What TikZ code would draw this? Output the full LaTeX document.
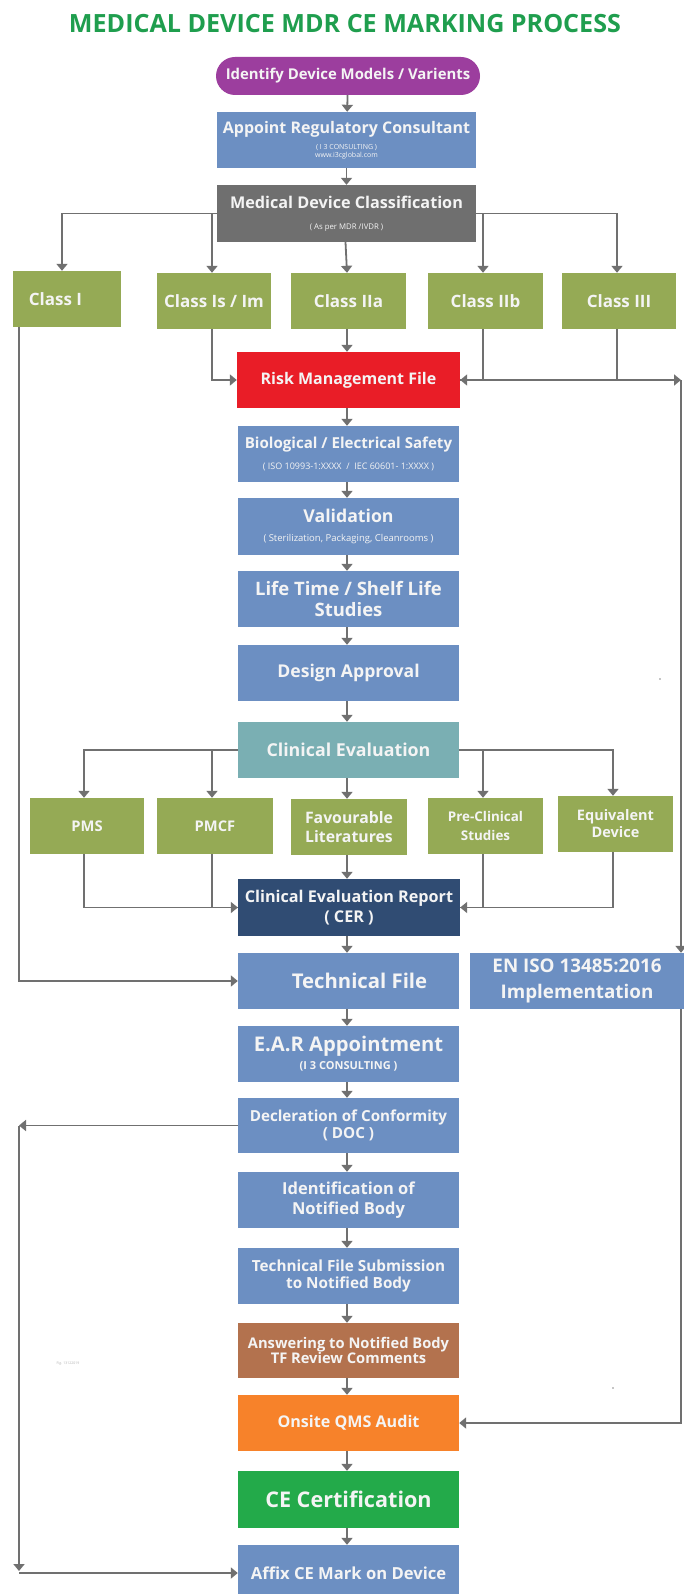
\documentclass[tikz,border=0pt]{standalone}
\usepackage{fontspec}
\setmainfont{Open Sans}
\usetikzlibrary{arrows.meta,calc}

\definecolor{titleGreen}{HTML}{1F9E4E}
\definecolor{cPurple}{HTML}{9C3E9E}
\definecolor{cBlue}{HTML}{6C8FC2}
\definecolor{cGray}{HTML}{6F6F6F}
\definecolor{cOlive}{HTML}{95AA55}
\definecolor{cRed}{HTML}{E91D27}
\definecolor{cTeal}{HTML}{7AAFB3}
\definecolor{cNavy}{HTML}{304C73}
\definecolor{cBrown}{HTML}{B3724E}
\definecolor{cOrange}{HTML}{F7822A}
\definecolor{cGreen}{HTML}{23AA4A}
\definecolor{lineGray}{HTML}{707070}
\definecolor{boxText}{HTML}{F4F4F4}

% font size with a 1.2 baseline skip
\newcommand{\fs}[1]{\fontsize{#1}{1.2\dimexpr#1pt\relax}\selectfont}
% small regular-weight remark line
\newcommand{\remark}[2]{{\mdseries\fs{#1}#2}}

\tikzset{
  box/.style={rectangle, inner sep=0pt, minimum width=221pt, minimum height=56pt,
    text=boxText, align=center, font=\bfseries},
  classbox/.style={box, fill=cOlive, minimum width=114pt, font=\bfseries\fs{17}},
  arr/.style={draw=lineGray, line width=1.8pt, -{Triangle[length=7pt,width=11pt]}},
  plain/.style={draw=lineGray, line width=1.8pt},
}

\begin{document}
\begin{tikzpicture}[x=1pt,y=-1pt]
\useasboundingbox (0,0) rectangle (684,1594);
\fill[white] (0,0) rectangle (684,1594);

% title
\node[font=\bfseries\fs{25.1}, text=titleGreen] (title) at (345,24) {MEDICAL DEVICE MDR CE MARKING PROCESS};

% top of the flow
\node[box, fill=cPurple, minimum width=264pt, minimum height=38pt, rounded corners=19pt,
      font=\bfseries\fs{14.9}] (ident) at (348,76) {Identify Device Models / Varients};
\node[box, fill=cBlue, minimum width=259pt, font=\bfseries\fs{16}] (appoint) at (346.5,140)
  {Appoint Regulatory Consultant\\[-3pt]
   \remark{7}{( I 3 CONSULTING )}\\[-11.5pt]\remark{7}{www.i3cglobal.com}};
\node[box, fill=cGray, minimum width=259pt, minimum height=57pt, font=\bfseries\fs{16.2}] (classif) at (346.5,213.5)
  {Medical Device Classification\\[1.5pt]\remark{7.8}{( As per MDR /IVDR )}};

% device classes
\node[classbox, minimum width=108pt] (c1) at (67,299) {\hspace*{-23pt}Class I};
\node[classbox] (cs) at (214,301) {Class Is / Im};
\node[classbox, minimum width=115pt] (c2a) at (348.5,301) {Class IIa};
\node[classbox, minimum width=115pt] (c2b) at (485.5,301) {Class IIb};
\node[classbox] (c3) at (619,301) {Class III};

% main column
\node[box, fill=cRed, minimum width=223pt, font=\bfseries\fs{16}] (risk) at (348.5,380) {Risk Management File};
\node[box, fill=cBlue, font=\bfseries\fs{15.1}] (bio) at (348.5,454)
  {Biological / Electrical Safety\\[2.6pt]\remark{9}{( ISO 10993-1:XXXX \ / \ IEC 60601- 1:XXXX )}};
\node[box, fill=cBlue, minimum height=57pt, font=\bfseries\fs{17.7}] (valid) at (348.5,526.5)
  {Validation\\[-1.5pt]\remark{9.5}{( Sterilization, Packaging, Cleanrooms )}};
\node[box, fill=cBlue, font=\bfseries\fs{18.5}] (life) at (348.5,599) {Life Time / Shelf Life\\[-1pt]Studies};
\node[box, fill=cBlue, font=\bfseries\fs{17.6}] (design) at (348.5,673) {Design Approval};
\node[box, fill=cTeal, font=\bfseries\fs{17.8}] (clin) at (348.5,750) {Clinical Evaluation};

% clinical evidence sources
\node[classbox, font=\bfseries\fs{14.7}] (pms) at (87,826) {PMS};
\node[classbox, minimum width=116pt, font=\bfseries\fs{14.7}] (pmcf) at (215,826) {PMCF};
\node[classbox, minimum width=116pt, font=\bfseries\fs{15.8}] (fav) at (349,827) {Favourable\\[0pt]Literatures};
\node[classbox, minimum width=115pt, font=\bfseries\fs{13.4}] (pre) at (485.5,826) {Pre-Clinical\\[3pt]Studies};
\node[classbox, minimum width=115pt, font=\bfseries\fs{14.5}] (equiv) at (615.5,824) {Equivalent\\[-0.5pt]Device};

\node[box, fill=cNavy, minimum width=222pt, minimum height=57pt, font=\bfseries\fs{16.2}] (cer) at (349,907.5)
  {Clinical Evaluation Report\\[0.5pt]( CER )};
\node[box, fill=cBlue, font=\bfseries\fs{20.3}] (tf) at (348.5,981) {\hspace*{22pt}Technical File};
\node[box, fill=cBlue, minimum width=214pt, font=\bfseries\fs{18.8}] (eniso) at (577,981)
  {EN ISO 13485:2016\\[3pt]Implementation};
\node[box, fill=cBlue, font=\bfseries\fs{20.2}] (ear) at (348.5,1054)
  {E.A.R Appointment\\[-6.5pt]{\fs{11}(I 3 CONSULTING )}};
\node[box, fill=cBlue, minimum height=55pt, font=\bfseries\fs{15.2}] (doc) at (348.5,1125.5)
  {Decleration of Conformity\\[-1.5pt]( DOC )};
\node[box, fill=cBlue, font=\bfseries\fs{16.5}] (idnb) at (348.5,1200) {Identification of\\[0.5pt]Notified Body};
\node[box, fill=cBlue, font=\bfseries\fs{15.3}] (tfsub) at (348.5,1276) {Technical File Submission\\[-1.4pt]to Notified Body};
\node[box, fill=cBrown, minimum height=55pt, font=\bfseries\fs{14.7}] (answer) at (348.5,1350.5)
  {Answering to Notified Body\\[-1.8pt]TF Review Comments};
\node[box, fill=cOrange, font=\bfseries\fs{16.1}] (onsite) at (348.5,1423) {Onsite QMS Audit};
\node[box, fill=cGreen, minimum height=57pt, font=\bfseries\fs{21.6}] (ce) at (348.5,1499.5) {CE Certification};
\node[box, fill=cBlue, minimum height=56pt, font=\bfseries\fs{16.6}] (affix) at (348.5,1573) {Affix CE Mark on Device};

% small figure reference
\node[font=\fs{3.5}, text=black!30] (fig) at (68,1364) {Fig. 13122019};

% side rails and drop points
\coordinate (lx) at (19,0);
\coordinate (rt) at (681,380);
\coordinate (csT) at ([xshift=-2pt]cs.north);
\coordinate (c2bT) at ([xshift=-2.5pt]c2b.north);
\coordinate (pmcfT) at ([xshift=-3pt]pmcf.north);
\coordinate (preT) at ([xshift=-2.5pt]pre.north);

% connectors: top chain
\draw[arr] (ident) -- (appoint);
\draw[arr] (appoint) -- (classif);

% classification fan-out
\draw[arr] (classif.west) -| ([xshift=-5pt]c1.north);
\draw[arr] (classif.west -| csT) -- (csT);
\draw[arr] ([xshift=-1pt]classif.south) -- ([xshift=-1.5pt]c2a.north);
\draw[arr] (classif.east -| c2bT) -- (c2bT);
\draw[arr] (classif.east) -| ([xshift=-2pt]c3.north);

% classes into the risk file / rails
\draw[arr] (c1.south -| lx) |- (tf.west);
\draw[arr] ([xshift=-2pt]cs.south) |- (risk.west);
\draw[arr] ([xshift=-1.5pt]c2a.south) -- ([xshift=-1.5pt]risk.north);
\draw[arr] ([xshift=-2.5pt]c2b.south) |- (risk.east);
\draw[plain] ([xshift=-2pt]c3.south) |- (risk.east);
\draw[arr] (risk.east) -- (rt);
\draw[arr] (rt) -- (rt |- eniso.north);
\draw[arr] (eniso.south -| rt) |- (onsite.east);

% main chain
\draw[arr] ([xshift=-1.5pt]risk.south) -- ([xshift=-1.5pt]bio.north);
\draw[arr] ([xshift=-1.5pt]bio.south) -- ([xshift=-1.5pt]valid.north);
\draw[arr] ([xshift=-1.5pt]valid.south) -- ([xshift=-1.5pt]life.north);
\draw[arr] ([xshift=-1.5pt]life.south) -- ([xshift=-1.5pt]design.north);
\draw[arr] ([xshift=-1.5pt]design.south) -- ([xshift=-1.5pt]clin.north);

% clinical evaluation fan-out
\draw[arr] (clin.west) -| ([xshift=-3pt]pms.north);
\draw[arr] (clin.west -| pmcfT) -- (pmcfT);
\draw[arr] ([xshift=-1.5pt]clin.south) -- ([xshift=-2pt]fav.north);
\draw[arr] (clin.east -| preT) -- (preT);
\draw[arr] (clin.east) -| ([xshift=-2.5pt]equiv.north);

% evidence into the report
\draw[plain] ([xshift=-3pt]pms.south) |- (cer.west);
\draw[arr] ([xshift=-3pt]pmcf.south) |- (cer.west);
\draw[arr] ([xshift=-2pt]fav.south) -- ([xshift=-2pt]cer.north);
\draw[plain] ([xshift=-2.5pt]equiv.south) |- (cer.east);
\draw[arr] ([xshift=-2.5pt]pre.south) |- (cer.east);

% lower chain
\draw[arr] ([xshift=-2pt]cer.south) -- ([xshift=-1.5pt]tf.north);
\draw[arr] ([xshift=-1.5pt]tf.south) -- ([xshift=-1.5pt]ear.north);
\draw[arr] ([xshift=-1.5pt]ear.south) -- ([xshift=-1.5pt]doc.north);
\draw[arr] ([xshift=-1.5pt]doc.south) -- ([xshift=-1.5pt]idnb.north);
\draw[arr] ([xshift=-1.5pt]idnb.south) -- ([xshift=-1.5pt]tfsub.north);
\draw[arr] ([xshift=-1.5pt]tfsub.south) -- ([xshift=-1.5pt]answer.north);
\draw[arr] ([xshift=-1.5pt]answer.south) -- ([xshift=-1.5pt]onsite.north);
\draw[arr] ([xshift=-1.5pt]onsite.south) -- ([xshift=-1.5pt]ce.north);
\draw[arr] ([xshift=-1.5pt]ce.south) -- ([xshift=-1.5pt]affix.north);

% declaration branch down the left rail
\draw[arr] (doc.west) -- (doc.west -| lx);
\draw[arr] (doc.west -| lx) -- ([yshift=2pt]affix.west -| lx);
\draw[arr] (affix.west -| lx) -- (affix.west);

% stray marks
\fill[black!45] (660,679) circle (0.9pt);
\fill[black!45] (613,1388) circle (0.9pt);
\end{tikzpicture}
\end{document}
